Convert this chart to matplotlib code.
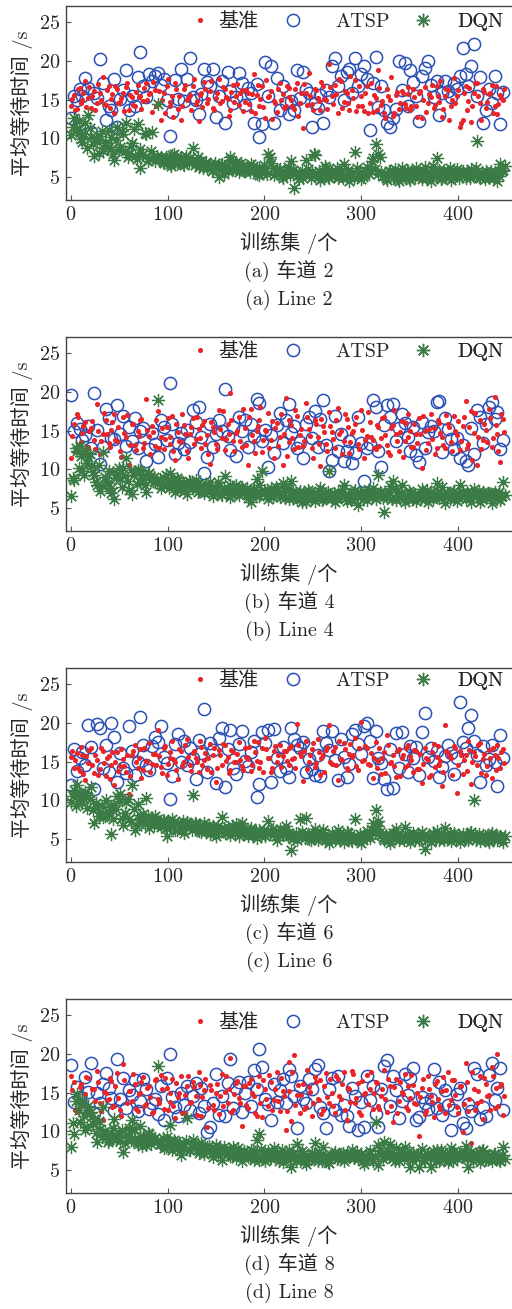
import numpy as np
import matplotlib
matplotlib.use("Agg")
import matplotlib.pyplot as plt

plt.rcParams['font.family'] = ['cmr10', 'Noto Sans CJK SC', 'DejaVu Sans']
plt.rcParams['axes.formatter.use_mathtext'] = True
plt.rcParams['mathtext.fontset'] = 'cm'
plt.rcParams['axes.unicode_minus'] = False

# ---------------- data ----------------
episodes_a = np.arange(0, 450, 3)   # sampled training episodes
episodes_b = np.arange(1, 450, 3)
episodes_c = np.arange(2, 450, 3)

series_names = ['基准', 'ATSP', 'DQN']
captions_cn = ['(a) 车道 2', '(b) 车道 4', '(c) 车道 6', '(d) 车道 8']
captions_en = ['(a) Line 2', '(b) Line 4', '(c) Line 6', '(d) Line 8']
x_label = '训练集 /个'
y_label = '平均等待时间 /s'
x_ticks = [0, 100, 200, 300, 400]
y_ticks = [5, 10, 15, 20, 25]

# ----- Line 2 -----
base_line2 = [
    14.2, 15.6, 13.8, 16.5, 14.9, 17.4, 15.2, 13.9, 16.1, 14.6, 15.8, 17.9, 14.3, 16.8, 15.1,
    13.2, 16.4, 14.7, 15.9, 16.6, 13.6, 15.3, 14.1, 16.9, 15.5, 14.8, 17.2, 15.7, 13.4, 16.2,
    14.5, 12.4, 15.9, 16.7, 14.2, 15.4, 17.1, 13.8, 12.3, 16.3, 14.9, 15.6, 16.8, 14.4, 12.2,
    15.8, 17.3, 14.6, 16.1, 13.9, 15.2, 17.6, 14.8, 16.4, 15.1, 13.7, 16.9, 15.5, 14.3, 16.2,
    14.7, 15.9, 13.5, 18.3, 15.6, 14.2, 16.7, 12.6, 15.3, 16.1, 14.8, 13.4, 17.2, 15.7, 14.1,
    16.5, 15.0, 13.8, 17.1, 14.6, 11.3, 15.9, 18.4, 14.4, 16.3, 15.2, 13.7, 16.8, 14.9, 19.6,
    15.5, 16.9, 13.2, 17.4, 14.7, 15.8, 13.6, 16.2, 17.5, 14.1, 15.4, 13.5, 16.7, 14.6, 13.4,
    15.2, 18.8, 14.3, 13.3, 16.4, 14.9, 12.9, 15.6, 13.8, 16.1, 14.4, 15.7, 13.6, 16.3, 14.2,
    15.9, 12.6, 16.6, 14.5, 15.3, 13.9, 16.8, 14.7, 12.8, 15.5, 16.2, 14.1, 17.8, 15.4, 11.5,
    12.4, 16.7, 14.8, 12.1, 15.9, 17.2, 14.6, 16.4, 13.9, 15.7, 16.9, 14.2, 13.1, 15.6, 14.9]
base_line2_b = [
    15.1, 13.7, 16.3, 14.5, 15.8, 14.0, 16.6, 15.4, 13.6, 17.0, 15.0, 14.4, 16.2, 13.9, 15.7,
    16.8, 14.6, 15.2, 13.5, 17.1, 15.6, 14.3, 16.0, 15.3, 13.8, 16.5, 14.9, 15.9, 17.3, 14.2,
    16.1, 15.0, 13.3, 17.6, 14.7, 12.8, 16.4, 15.5, 14.1, 16.9, 15.2, 13.7, 17.7, 14.8, 15.6,
    14.0, 16.3, 15.1, 17.4, 13.6, 15.9, 14.5, 16.6, 15.3, 12.9, 16.0, 14.7, 17.0, 15.8, 13.5,
    16.2, 14.4, 15.7, 13.2, 16.9, 15.1, 14.0, 17.5, 15.4, 12.5, 14.6, 16.3, 15.0, 13.9, 16.7,
    15.3, 14.1, 16.4, 12.9, 15.8, 17.0, 14.3, 15.5, 13.6, 16.2, 14.8, 17.3, 15.1, 13.8, 16.6,
    14.4, 15.7, 17.6, 13.9, 16.1, 14.6, 18.1, 15.2, 13.5, 16.8, 14.2, 15.9, 13.3, 17.2, 15.6,
    13.7, 16.5, 14.8, 12.6, 15.4, 17.9, 13.2, 16.0, 14.5, 15.8, 13.9, 16.6, 14.1, 15.3, 12.8,
    16.1, 14.9, 13.4, 15.7, 16.9, 14.3, 15.5, 17.4, 13.8, 16.4, 12.4, 15.0, 14.6, 16.2, 12.0,
    15.8, 13.6, 16.5, 14.2, 17.1, 15.4, 12.3, 16.0, 14.7, 15.9, 13.3, 16.8, 14.4, 15.2, 16.3]
atsp_line2 = [
    12.6, 15.4, 14.9, 16.3, 15.5, 17.8, 16.5, 10.8, 15.9, 15.2, 20.3, 17.2, 12.3, 14.1, 13.6,
    17.7, 11.5, 15.1, 16.2, 18.8, 13.7, 15.5, 14.2, 17.9, 21.2, 16.8, 15.3, 18.3, 17.4, 18.1,
    18.4, 16.9, 17.7, 15.0, 10.3, 13.4, 17.5, 15.1, 19.0, 14.8, 17.6, 20.4, 15.3, 14.9, 13.1,
    15.7, 18.9, 17.3, 16.8, 18.9, 12.7, 15.5, 17.4, 11.9, 18.6, 16.1, 14.6, 15.3, 18.4, 17.2,
    14.3, 16.5, 15.9, 12.0, 17.0, 10.2, 11.8, 19.9, 15.4, 19.4, 12.0, 17.8, 13.6, 16.7, 14.5,
    13.1, 14.8, 13.7, 18.8, 15.2, 18.6, 16.4, 15.8, 11.4, 14.6, 13.9, 15.6, 11.9, 16.2, 15.3,
    19.3, 20.4, 16.8, 18.1, 14.9, 18.6, 19.0, 15.8, 20.4, 16.7, 18.3, 19.4, 17.6, 11.1, 17.2,
    20.5, 14.0, 16.8, 13.6, 12.0, 11.4, 12.6, 13.8, 20.0, 16.2, 19.7, 14.1, 18.8, 17.3, 15.4,
    12.2, 18.1, 19.1, 20.0, 16.9, 15.3, 17.4, 13.0, 15.9, 17.4, 16.1, 15.3, 17.1, 16.3, 18.0,
    21.7, 18.3, 16.7, 19.4, 22.2, 15.4, 17.9, 12.0, 13.6, 16.3, 14.5, 18.0, 15.8, 11.8, 16.0]
dqn_line2 = [
    10.4, 12.6, 11.2, 10.8, 9.5, 11.9, 13.0, 10.1, 7.7, 9.6, 10.3, 8.4, 9.1, 11.0, 8.6,
    7.2, 11.4, 8.9, 10.5, 12.0, 8.0, 9.4, 7.7, 11.8, 6.2, 7.9, 10.6, 7.4, 10.8, 7.0,
    14.4, 7.5, 6.8, 7.3, 6.6, 7.8, 7.0, 6.9, 7.6, 6.5, 7.2, 7.4, 8.7, 6.8, 6.3,
    7.0, 6.4, 6.1, 6.7, 5.9, 6.3, 5.0, 6.6, 6.2, 5.8, 7.5, 6.0, 6.9, 5.6, 6.4,
    5.7, 6.3, 6.6, 5.9, 5.4, 6.1, 5.5, 5.8, 8.0, 6.8, 5.2, 5.6, 6.0, 4.9, 5.3,
    5.7, 7.0, 3.6, 5.1, 5.5, 4.8, 7.2, 5.3, 5.6, 7.8, 5.0, 4.6, 5.4, 6.1, 4.8,
    5.8, 5.2, 4.9, 5.5, 6.6, 5.0, 4.5, 5.3, 8.2, 5.1, 4.7, 5.4, 6.3, 5.9, 7.4,
    9.2, 7.9, 5.6, 5.2, 4.6, 5.8, 4.8, 5.4, 4.5, 6.1, 5.0, 5.7, 4.6, 5.3, 6.2,
    5.5, 4.7, 6.3, 5.1, 4.5, 5.6, 7.4, 5.9, 4.9, 5.2, 5.7, 4.6, 5.4, 6.0, 5.3,
    5.8, 4.9, 5.5, 6.0, 5.1, 9.6, 4.8, 5.3, 5.7, 4.9, 5.2, 5.6, 4.5, 6.6, 5.9]
dqn_line2_b = [
    11.5, 10.9, 12.2, 9.9, 10.6, 8.7, 11.3, 9.2, 10.0, 8.1, 10.9, 9.4, 8.8, 10.2, 7.9,
    9.8, 8.5, 10.9, 8.3, 7.6, 9.0, 11.2, 7.3, 8.6, 7.8, 10.7, 7.1, 8.4, 7.5, 7.7,
    7.3, 6.9, 7.6, 7.1, 6.4, 7.9, 6.7, 7.4, 6.6, 7.7, 6.9, 7.1, 6.5, 7.5, 6.8,
    6.2, 6.9, 6.5, 5.7, 6.8, 6.0, 6.5, 5.4, 6.3, 7.2, 5.9, 6.6, 6.1, 6.8, 5.8,
    6.1, 5.6, 6.4, 6.0, 5.2, 5.8, 6.5, 5.4, 7.6, 6.2, 5.5, 5.9, 5.1, 5.7, 6.3,
    5.2, 5.9, 5.5, 4.7, 5.8, 5.3, 6.0, 4.9, 7.9, 5.4, 5.7, 5.1, 6.4, 5.0, 5.5,
    5.3, 6.1, 5.6, 4.8, 5.2, 5.9, 5.4, 4.8, 6.2, 5.6, 5.0, 5.8, 5.3, 7.1, 6.0,
    5.4, 7.6, 5.1, 4.9, 5.7, 5.3, 6.0, 4.7, 5.5, 5.2, 5.9, 4.8, 5.6, 5.0, 5.8,
    5.1, 5.8, 4.9, 5.5, 6.4, 5.0, 5.3, 4.7, 5.9, 5.4, 6.1, 5.0, 5.6, 4.8, 5.5,
    5.3, 5.7, 4.8, 5.4, 6.1, 5.0, 5.6, 4.7, 5.2, 5.8, 4.9, 5.5, 5.1, 5.7, 6.4]

# ----- Line 4 -----
base_line4 = [
    11.5, 15.9, 17.1, 13.2, 14.7, 16.1, 12.9, 15.3, 13.8, 18.4, 11.9, 14.6, 16.3, 13.4, 15.1,
    17.2, 13.6, 12.3, 16.7, 14.2, 10.6, 15.8, 13.1, 14.9, 16.4, 12.7, 19.1, 14.3, 15.6, 13.0,
    17.5, 14.1, 12.6, 15.4, 13.3, 16.9, 11.2, 14.8, 13.5, 15.7, 12.4, 14.5, 16.6, 13.9, 15.2,
    12.8, 16.2, 14.4, 10.7, 15.5, 13.2, 17.6, 14.0, 12.5, 15.9, 19.9, 13.6, 14.7, 16.8, 12.9,
    15.3, 10.5, 17.8, 13.7, 14.9, 16.4, 12.2, 15.1, 17.3, 13.8, 11.4, 16.0, 14.2, 10.5, 19.2,
    13.5, 15.7, 12.6, 16.9, 14.4, 13.0, 18.6, 15.2, 12.8, 16.3, 14.1, 10.4, 15.6, 13.3, 17.4,
    14.8, 12.7, 17.9, 15.0, 13.6, 16.5, 12.1, 14.7, 15.9, 13.2, 17.7, 11.5, 14.3, 16.1, 13.8,
    12.6, 15.4, 14.0, 16.8, 13.1, 11.8, 15.7, 14.5, 12.4, 16.2, 13.7, 17.2, 15.0, 12.9, 14.6,
    16.6, 10.2, 14.9, 13.4, 17.1, 15.3, 12.7, 16.0, 14.2, 12.8, 15.8, 13.5, 16.9, 14.4, 12.5,
    15.6, 18.8, 13.2, 17.5, 14.7, 10.5, 16.3, 13.8, 15.1, 17.8, 12.9, 19.3, 14.6, 10.9, 16.5]
base_line4_b = [
    14.3, 12.2, 16.8, 13.5, 15.6, 11.8, 14.9, 16.2, 12.6, 15.0, 13.7, 17.3, 14.5, 12.9, 16.1,
    13.8, 15.4, 11.6, 14.7, 17.0, 13.1, 15.9, 12.5, 14.3, 16.5, 13.4, 15.1, 11.9, 14.8, 16.4,
    12.7, 15.3, 13.9, 16.6, 14.1, 12.3, 15.8, 13.6, 17.2, 14.6, 11.5, 15.5, 13.2, 16.8, 14.0,
    15.7, 13.3, 11.9, 16.1, 14.8, 12.6, 15.2, 17.5, 13.9, 14.5, 16.3, 12.4, 15.0, 13.6, 17.8,
    13.1, 16.7, 14.4, 12.1, 15.6, 18.1, 13.8, 14.9, 12.7, 16.2, 15.3, 13.0, 17.1, 14.6, 11.7,
    16.4, 14.0, 17.6, 12.9, 15.2, 13.7, 16.8, 14.3, 11.4, 15.9, 13.3, 16.5, 14.8, 12.4, 15.6,
    13.9, 16.3, 14.6, 12.0, 17.1, 15.4, 13.5, 14.9, 16.7, 12.6, 15.1, 13.8, 17.4, 14.2, 12.8,
    15.7, 13.0, 16.6, 14.4, 12.2, 15.3, 17.6, 13.6, 14.8, 11.6, 16.0, 14.1, 12.9, 15.8, 13.4,
    14.5, 16.9, 12.5, 15.2, 13.9, 11.9, 16.4, 14.7, 13.1, 17.0, 15.5, 12.3, 14.9, 16.2, 13.6,
    16.8, 12.8, 15.4, 11.2, 17.3, 14.2, 12.6, 15.9, 13.5, 16.6, 14.0, 15.7, 12.4, 17.1, 14.8]
atsp_line4 = [
    19.6, 14.9, 16.0, 15.2, 13.8, 14.4, 15.6, 12.8, 19.9, 15.1, 10.7, 12.9, 17.8, 16.6, 14.0,
    13.9, 18.3, 14.6, 16.9, 13.0, 15.5, 13.6, 16.6, 12.7, 14.9, 15.3, 11.1, 12.6, 14.7, 13.2,
    11.6, 16.3, 15.4, 13.8, 21.2, 15.9, 12.0, 13.4, 14.7, 12.6, 15.1, 13.5, 17.6, 16.1, 18.0,
    14.2, 9.5, 11.6, 15.8, 12.9, 14.6, 16.3, 15.0, 20.4, 14.3, 12.5, 15.4, 11.7, 16.8, 14.9,
    16.3, 12.9, 15.8, 14.1, 19.1, 18.6, 13.6, 15.1, 10.3, 14.4, 12.1, 15.7, 17.3, 13.4, 16.4,
    18.4, 14.7, 15.6, 12.8, 13.5, 11.5, 15.9, 16.8, 14.0, 17.5, 12.9, 16.5, 18.9, 13.1, 9.8,
    11.2, 16.9, 12.3, 14.6, 11.0, 12.4, 13.7, 10.8, 12.1, 16.7, 13.4, 8.5, 12.8, 13.2, 18.9,
    18.1, 12.4, 10.3, 15.7, 18.3, 16.8, 18.4, 13.7, 15.3, 17.2, 16.0, 14.2, 12.3, 15.5, 11.8,
    10.9, 16.1, 12.7, 14.8, 15.6, 14.9, 18.7, 18.8, 12.2, 16.6, 15.2, 13.9, 12.6, 14.0, 11.5,
    13.1, 11.1, 10.6, 15.3, 12.0, 17.6, 16.8, 13.4, 15.9, 18.0, 18.7, 16.5, 17.4, 12.6, 13.8]
dqn_line4 = [
    6.5, 8.6, 12.3, 13.0, 9.7, 12.5, 11.6, 10.4, 9.2, 8.0, 7.2, 12.2, 8.5, 9.8, 6.9,
    6.2, 9.4, 8.8, 10.1, 11.5, 7.3, 6.8, 9.6, 9.9, 8.4, 9.3, 7.1, 9.5, 8.7, 8.3,
    19.0, 7.5, 8.9, 7.9, 9.5, 8.2, 7.0, 8.6, 7.4, 8.1, 6.8, 8.3, 7.7, 8.6, 7.2,
    7.9, 6.9, 7.6, 8.4, 6.5, 7.3, 7.8, 6.7, 9.1, 7.2, 6.4, 7.5, 8.0, 6.6, 7.7,
    7.1, 6.3, 5.8, 7.4, 8.7, 6.5, 9.8, 7.0, 6.2, 7.6, 6.8, 7.3, 6.4, 8.2, 7.5,
    6.1, 8.5, 6.7, 6.0, 7.2, 6.4, 5.7, 7.0, 6.6, 5.9, 6.8, 7.6, 6.2, 6.9, 9.8,
    6.3, 5.8, 7.1, 6.5, 8.0, 5.9, 6.7, 6.1, 7.3, 5.4, 6.6, 7.2, 6.0, 6.8, 7.5,
    6.2, 9.2, 6.9, 4.5, 6.3, 7.8, 8.5, 6.0, 6.6, 7.9, 5.8, 6.4, 6.9, 6.2, 5.9,
    6.7, 7.4, 6.1, 5.7, 7.0, 6.5, 8.2, 6.3, 7.7, 5.6, 6.8, 6.4, 7.2, 5.9, 7.9,
    7.1, 6.2, 6.8, 5.8, 7.4, 6.5, 5.7, 7.0, 6.3, 6.9, 5.6, 7.1, 6.4, 6.0, 8.3]
dqn_line4_b = [
    8.9, 12.8, 10.1, 11.7, 9.3, 10.8, 12.0, 9.6, 8.4, 10.5, 7.8, 9.0, 8.2, 7.5, 9.6,
    8.9, 10.2, 7.7, 9.1, 8.5, 9.9, 9.2, 8.1, 9.7, 8.8, 7.9, 9.4, 8.6, 9.0, 8.2,
    8.7, 8.0, 9.3, 7.6, 8.4, 7.9, 8.8, 7.3, 8.2, 7.7, 8.5, 7.5, 8.1, 7.0, 7.8,
    7.4, 8.1, 7.0, 7.7, 7.2, 8.3, 6.8, 7.5, 7.1, 7.9, 6.6, 7.3, 7.0, 7.6, 6.9,
    7.5, 6.8, 7.2, 6.5, 7.9, 6.9, 7.3, 6.6, 7.1, 6.4, 7.7, 6.8, 7.0, 6.3, 7.4,
    6.7, 7.1, 6.4, 6.9, 5.8, 6.6, 7.3, 6.2, 6.8, 6.5, 7.2, 6.0, 6.7, 7.0, 6.4,
    6.9, 6.1, 6.6, 7.4, 6.3, 6.8, 6.0, 7.0, 6.5, 6.9, 6.2, 6.7, 7.3, 6.4, 6.8,
    6.6, 7.1, 6.3, 6.8, 7.0, 6.2, 7.4, 6.5, 6.9, 6.1, 6.7, 7.2, 6.4, 6.8, 6.6,
    6.2, 6.9, 7.3, 6.5, 6.1, 6.8, 7.0, 6.4, 6.7, 6.9, 6.2, 7.1, 6.6, 6.3, 6.9,
    6.6, 7.0, 6.3, 6.8, 6.5, 7.2, 6.1, 6.7, 6.9, 6.4, 6.8, 6.2, 7.0, 6.5, 6.7]

# ----- Line 6 -----
base_line6 = [
    15.6, 14.2, 16.1, 13.8, 15.9, 12.6, 14.8, 16.7, 13.5, 15.2, 14.0, 16.4, 13.1, 15.7, 14.6,
    11.9, 16.2, 14.4, 15.3, 13.6, 10.8, 15.8, 17.2, 14.1, 16.6, 13.9, 15.1, 17.4, 14.7, 16.0,
    19.1, 14.3, 16.8, 13.2, 15.5, 17.6, 14.9, 12.8, 16.3, 15.0, 17.9, 14.5, 16.1, 15.4, 13.7,
    16.9, 15.2, 14.0, 17.3, 15.8, 12.3, 16.5, 14.6, 17.1, 15.6, 13.9, 16.2, 15.0, 17.5, 14.4,
    16.7, 15.3, 13.8, 17.7, 15.1, 14.2, 16.8, 18.0, 15.5, 13.6, 16.4, 14.9, 17.2, 15.7, 16.3,
    14.5, 17.0, 15.4, 19.8, 16.1, 12.5, 17.6, 15.0, 16.6, 14.3, 17.9, 13.2, 15.8, 16.5, 19.7,
    14.7, 16.9, 12.6, 15.3, 17.4, 14.2, 16.0, 15.6, 18.1, 13.9, 20.1, 15.2, 16.7, 14.6, 12.9,
    17.5, 15.1, 13.4, 16.2, 18.4, 14.8, 15.9, 13.0, 16.6, 15.4, 14.3, 17.1, 15.7, 13.6, 16.3,
    14.0, 12.2, 16.8, 15.2, 13.3, 17.3, 15.6, 14.5, 11.8, 19.7, 16.1, 15.5, 17.0, 10.9, 16.4,
    13.4, 15.9, 17.7, 12.1, 16.2, 14.6, 17.4, 15.3, 13.2, 16.5, 12.9, 15.8, 17.2, 14.1, 16.6]
base_line6_b = [
    16.4, 15.2, 14.1, 16.9, 13.4, 15.7, 16.5, 14.6, 15.9, 13.2, 16.7, 14.8, 15.5, 12.7, 16.2,
    15.0, 13.8, 16.6, 14.4, 15.8, 13.1, 16.3, 14.9, 15.4, 12.9, 16.8, 15.1, 13.7, 16.0, 14.5,
    15.7, 13.5, 17.0, 14.7, 16.2, 15.3, 13.9, 16.6, 14.4, 17.1, 15.6, 13.8, 16.4, 15.0, 17.6,
    14.6, 16.1, 15.4, 13.7, 16.8, 14.2, 15.9, 17.3, 15.1, 13.5, 16.5, 14.9, 16.0, 15.2, 13.9,
    15.6, 16.9, 14.5, 16.2, 17.5, 15.0, 13.6, 16.6, 15.4, 14.1, 17.0, 15.8, 14.3, 16.4, 15.1,
    16.8, 15.3, 14.2, 17.2, 15.7, 16.4, 14.0, 15.9, 17.4, 14.8, 16.2, 15.5, 13.7, 16.9, 15.0,
    16.3, 14.5, 17.7, 15.2, 16.6, 13.9, 17.3, 15.8, 14.4, 16.8, 15.1, 17.0, 14.7, 16.1, 15.5,
    14.2, 16.7, 15.4, 13.5, 17.1, 15.0, 14.4, 16.3, 13.1, 15.9, 16.8, 14.6, 15.2, 16.5, 14.0,
    16.0, 14.7, 15.5, 13.0, 16.2, 14.3, 17.0, 15.1, 13.6, 16.4, 15.7, 13.2, 16.8, 14.5, 15.9,
    15.2, 13.8, 16.5, 14.9, 15.7, 17.1, 13.5, 16.0, 14.4, 15.5, 16.7, 13.9, 15.4, 16.2, 14.8]
atsp_line6 = [
    11.9, 16.6, 13.8, 15.4, 16.2, 14.5, 19.7, 16.9, 11.4, 19.8, 19.3, 14.2, 17.1, 13.6, 20.0,
    18.2, 12.3, 16.1, 14.1, 13.5, 19.6, 16.4, 13.3, 15.0, 20.8, 17.2, 14.6, 13.9, 17.0, 18.2,
    17.5, 19.6, 15.6, 14.8, 10.1, 13.1, 17.3, 18.5, 15.0, 17.7, 14.6, 16.8, 15.4, 12.8, 17.8,
    16.1, 21.8, 13.7, 17.4, 16.5, 12.2, 18.0, 19.3, 11.7, 16.6, 19.1, 14.2, 13.4, 17.3, 19.0,
    15.1, 14.4, 16.2, 17.6, 10.4, 12.1, 18.8, 17.4, 19.1, 12.3, 19.2, 15.4, 13.8, 16.9, 14.1,
    13.0, 19.3, 17.9, 17.2, 16.7, 17.5, 13.6, 15.3, 14.0, 13.3, 15.8, 13.1, 18.9, 17.4, 16.5,
    18.9, 15.2, 12.6, 17.9, 15.6, 13.0, 14.7, 18.6, 19.1, 17.3, 16.0, 19.6, 20.0, 17.7, 12.9,
    19.0, 15.5, 14.8, 12.7, 11.5, 16.6, 11.6, 18.7, 14.2, 18.8, 16.0, 13.6, 17.0, 15.4, 16.9,
    13.2, 18.8, 21.3, 15.6, 16.7, 15.1, 16.4, 13.0, 14.3, 15.7, 17.2, 16.1, 13.4, 15.5, 22.7,
    17.5, 16.8, 19.4, 21.0, 17.7, 15.9, 12.3, 17.0, 14.6, 15.3, 17.2, 14.9, 11.8, 18.4, 15.4]
dqn_line6 = [
    9.8, 11.3, 12.0, 10.2, 9.6, 11.0, 10.4, 11.7, 7.0, 9.1, 8.5, 7.8, 10.0, 8.3, 5.6,
    9.4, 10.5, 10.8, 6.8, 9.7, 7.5, 12.0, 6.1, 9.5, 7.4, 8.2, 10.3, 6.4, 7.5, 7.9,
    7.1, 6.5, 7.3, 5.3, 6.8, 7.5, 6.2, 7.0, 6.4, 5.8, 7.2, 6.6, 10.7, 6.9, 6.0,
    5.9, 7.1, 6.3, 5.6, 6.7, 5.4, 6.2, 7.8, 5.7, 6.5, 5.5, 6.1, 6.9, 5.3, 7.0,
    6.0, 5.4, 6.4, 5.8, 5.1, 6.2, 5.7, 5.3, 7.3, 6.0, 5.6, 4.9, 6.3, 5.5, 6.6,
    5.8, 3.6, 5.2, 4.9, 7.5, 5.5, 7.7, 5.0, 5.6, 6.3, 4.8, 5.4, 6.1, 5.1, 4.5,
    5.7, 4.9, 6.2, 5.3, 4.6, 5.9, 5.2, 4.7, 7.5, 5.0, 4.4, 5.6, 6.0, 5.1, 7.0,
    8.7, 7.3, 5.5, 4.9, 5.2, 4.5, 5.8, 6.3, 4.8, 5.4, 6.5, 5.0, 4.6, 5.7, 5.2,
    4.8, 5.9, 3.7, 5.3, 4.6, 5.5, 6.0, 4.9, 5.2, 6.4, 5.0, 4.7, 5.8, 5.3, 4.6,
    5.6, 5.1, 4.8, 5.9, 10.0, 5.3, 4.7, 5.5, 5.0, 4.6, 5.7, 5.2, 4.9, 5.4, 4.6]
dqn_line6_b = [
    10.5, 9.3, 10.9, 9.9, 10.7, 9.0, 10.1, 8.7, 9.6, 8.0, 9.3, 7.9, 8.6, 9.1, 7.6,
    8.8, 9.9, 7.7, 8.4, 10.2, 7.2, 8.9, 6.7, 8.1, 7.6, 6.9, 7.9, 7.3, 6.8, 7.5,
    6.9, 7.4, 6.4, 7.0, 6.6, 7.2, 6.1, 6.8, 7.3, 6.5, 6.9, 6.2, 7.1, 6.4, 6.7,
    6.5, 6.0, 6.8, 6.2, 5.8, 6.6, 6.0, 6.4, 5.7, 6.3, 6.7, 5.9, 6.2, 6.5, 5.8,
    5.7, 6.2, 5.5, 6.0, 5.8, 5.4, 6.1, 5.9, 5.6, 6.3, 5.3, 5.9, 5.7, 6.1, 5.4,
    5.4, 5.0, 5.7, 5.3, 5.9, 5.1, 5.6, 4.9, 5.3, 5.8, 5.2, 5.7, 4.9, 5.5, 5.2,
    5.2, 5.5, 4.8, 5.4, 5.0, 5.7, 4.9, 5.3, 5.1, 5.6, 4.8, 5.2, 5.5, 6.2, 5.8,
    6.6, 5.9, 5.1, 5.5, 4.9, 5.3, 5.0, 5.6, 5.2, 4.9, 5.5, 5.1, 5.4, 4.8, 5.6,
    5.1, 5.5, 4.9, 5.2, 5.7, 5.0, 5.4, 5.6, 4.9, 5.3, 5.8, 5.1, 5.0, 5.5, 5.2,
    5.0, 5.4, 5.7, 5.2, 4.9, 5.6, 5.1, 5.3, 4.8, 5.5, 5.0, 5.4, 5.2, 5.0, 5.3]

# ----- Line 8 -----
base_line8 = [
    17.2, 16.3, 12.5, 15.7, 13.2, 14.8, 16.9, 12.1, 15.4, 17.8, 13.6, 11.4, 15.0, 14.2, 16.5,
    13.3, 17.5, 12.8, 18.7, 10.4, 15.2, 13.9, 16.1, 12.6, 14.9, 17.0, 13.5, 15.8, 12.3, 16.6,
    14.1, 17.3, 12.9, 15.6, 13.8, 16.7, 11.7, 14.4, 17.1, 12.4, 15.9, 13.6, 16.4, 14.6, 17.6,
    11.9, 15.3, 10.5, 16.0, 13.4, 14.9, 12.2, 17.4, 15.1, 13.7, 19.5, 12.8, 16.2, 14.3, 10.7,
    15.8, 13.0, 16.8, 14.5, 12.0, 17.2, 11.8, 15.5, 13.3, 16.3, 14.0, 17.7, 12.6, 15.2, 10.1,
    18.9, 11.3, 19.8, 14.7, 12.4, 16.1, 13.1, 15.7, 11.9, 17.0, 14.2, 16.6, 12.7, 17.5, 13.6,
    15.0, 12.3, 16.8, 14.1, 17.6, 11.5, 15.4, 17.8, 13.7, 16.2, 12.1, 14.8, 17.3, 15.5, 12.9,
    16.4, 13.2, 14.6, 17.9, 12.5, 15.9, 11.2, 16.7, 13.9, 15.1, 17.4, 12.7, 14.3, 16.0, 13.5,
    9.4, 15.6, 12.2, 17.1, 14.5, 11.8, 16.5, 13.3, 15.2, 12.4, 17.7, 14.0, 16.6, 13.1, 15.8,
    9.9, 18.8, 12.6, 8.5, 15.4, 13.6, 17.2, 11.6, 16.1, 14.7, 18.3, 13.0, 20.0, 15.9, 12.1]
base_line8_b = [
    15.3, 12.8, 14.6, 16.1, 13.4, 17.0, 12.2, 15.5, 13.9, 16.4, 12.6, 15.1, 14.0, 16.9, 13.1,
    15.9, 14.3, 12.0, 16.6, 13.7, 15.2, 17.4, 12.9, 14.8, 16.3, 13.2, 15.6, 14.4, 12.5, 16.7,
    13.6, 15.4, 16.9, 12.8, 14.9, 13.3, 16.2, 15.0, 12.4, 14.7, 17.2, 13.8, 15.7, 12.1, 16.0,
    14.4, 16.8, 13.0, 15.3, 12.7, 16.1, 14.6, 13.2, 17.1, 15.4, 12.5, 14.8, 16.5, 13.6, 15.9,
    13.4, 16.2, 14.9, 12.3, 15.8, 13.7, 16.6, 14.2, 17.3, 12.8, 15.5, 13.9, 16.9, 14.5, 12.6,
    15.2, 17.6, 13.4, 16.0, 14.7, 12.9, 17.9, 15.1, 13.6, 16.3, 14.0, 12.2, 15.8, 14.4, 16.7,
    13.2, 17.2, 14.6, 16.1, 12.7, 15.6, 13.8, 17.4, 14.3, 12.5, 16.5, 15.0, 13.5, 17.7, 14.9,
    16.2, 12.9, 15.4, 14.1, 16.8, 13.3, 15.7, 12.4, 16.4, 14.8, 13.1, 15.9, 17.3, 13.7, 15.0,
    14.4, 16.7, 12.6, 15.5, 13.8, 16.1, 14.2, 12.9, 17.0, 15.3, 13.4, 16.6, 14.7, 12.3, 15.8,
    13.5, 16.4, 14.1, 17.6, 12.8, 15.2, 13.9, 16.9, 14.5, 12.7, 17.2, 15.6, 13.3, 16.1, 14.6]
atsp_line8 = [
    18.6, 13.8, 15.7, 14.4, 13.2, 17.0, 15.1, 18.8, 12.4, 14.9, 13.6, 16.1, 17.5, 15.6, 14.3,
    12.6, 19.3, 14.1, 16.9, 13.0, 15.3, 14.7, 16.6, 12.6, 13.9, 16.7, 15.5, 12.9, 13.7, 14.2,
    12.2, 15.8, 11.5, 16.9, 20.0, 14.4, 13.1, 12.0, 15.0, 13.4, 15.9, 12.7, 14.5, 16.2, 12.3,
    15.6, 13.3, 9.9, 10.5, 13.7, 17.4, 12.1, 14.5, 11.9, 16.2, 19.3, 13.0, 15.6, 16.3, 12.5,
    14.9, 16.4, 13.2, 17.9, 15.5, 20.6, 18.3, 14.1, 13.5, 11.5, 16.1, 13.8, 15.3, 16.8, 13.6,
    18.0, 17.2, 14.6, 10.4, 15.9, 14.2, 13.6, 16.7, 15.4, 18.0, 18.6, 13.1, 12.3, 10.4, 15.5,
    16.9, 12.7, 17.2, 12.1, 13.4, 11.9, 10.7, 15.6, 14.5, 10.2, 13.8, 10.6, 17.1, 14.0, 15.9,
    12.2, 10.5, 15.5, 18.4, 19.2, 13.2, 17.1, 15.3, 11.7, 13.9, 17.4, 14.7, 16.9, 18.2, 11.5,
    11.8, 14.4, 13.6, 12.9, 14.2, 18.1, 13.0, 16.4, 12.1, 15.3, 13.4, 10.2, 12.8, 14.8, 15.6,
    11.1, 10.4, 13.5, 12.6, 18.2, 17.4, 11.6, 13.1, 12.0, 17.3, 18.8, 14.0, 15.6, 18.2, 12.8]
dqn_line8 = [
    8.0, 9.6, 14.8, 11.2, 14.0, 10.1, 13.2, 12.5, 11.6, 8.6, 10.3, 13.1, 9.4, 8.9, 9.8,
    11.6, 9.2, 8.7, 7.3, 9.5, 10.4, 11.5, 9.0, 8.4, 10.7, 9.3, 8.2, 9.6, 8.8, 9.1,
    18.4, 8.3, 7.8, 9.2, 10.8, 7.5, 8.6, 8.0, 6.9, 8.3, 11.7, 7.6, 8.9, 8.1, 7.2,
    8.5, 7.0, 7.9, 7.4, 6.6, 8.2, 7.7, 6.3, 7.5, 7.0, 6.8, 7.9, 6.5, 7.3, 6.2,
    7.1, 6.7, 7.6, 6.3, 8.9, 9.6, 7.0, 6.1, 7.4, 6.5, 7.8, 6.6, 7.2, 6.0, 6.8,
    7.5, 5.4, 6.7, 8.3, 6.2, 7.0, 5.8, 6.4, 7.2, 8.5, 6.1, 6.6, 7.9, 6.3, 5.9,
    6.8, 7.3, 6.5, 7.0, 6.1, 7.2, 6.6, 7.5, 6.9, 6.4, 7.1, 5.7, 6.7, 7.4, 6.2,
    11.2, 5.6, 6.9, 8.6, 7.6, 8.4, 6.5, 7.8, 6.2, 7.3, 8.0, 6.8, 5.3, 7.1, 6.6,
    5.4, 7.7, 6.3, 7.0, 5.3, 6.8, 7.5, 6.1, 7.2, 6.7, 6.0, 7.8, 7.4, 6.5, 7.0,
    6.9, 8.1, 5.3, 7.3, 6.6, 7.1, 6.0, 7.6, 6.4, 6.9, 6.2, 7.0, 6.5, 6.1, 7.9]
dqn_line8_b = [
    11.0, 13.9, 12.7, 13.5, 11.9, 10.6, 12.3, 10.9, 9.7, 11.3, 9.2, 10.0, 8.6, 9.3, 10.4,
    8.9, 9.7, 10.1, 8.5, 9.2, 8.8, 10.3, 8.6, 9.4, 8.1, 8.9, 9.8, 8.3, 9.0, 8.7,
    8.4, 9.1, 7.9, 8.6, 8.2, 8.9, 7.7, 8.5, 8.0, 8.7, 7.6, 8.3, 7.8, 8.4, 7.5,
    7.9, 7.4, 8.1, 7.2, 7.7, 6.9, 7.6, 8.0, 7.1, 7.5, 6.8, 7.3, 7.8, 6.9, 7.4,
    7.2, 6.6, 7.4, 7.0, 6.3, 7.7, 6.8, 7.1, 6.5, 7.3, 6.9, 6.2, 7.5, 6.7, 7.0,
    6.5, 7.1, 6.3, 6.9, 7.4, 6.1, 6.8, 6.4, 7.0, 6.6, 7.3, 6.2, 6.8, 6.0, 6.7,
    7.0, 6.4, 6.9, 7.2, 6.6, 6.8, 7.1, 6.5, 7.3, 6.7, 6.2, 6.9, 7.0, 6.4, 6.8,
    8.2, 7.5, 6.4, 7.0, 6.7, 7.3, 6.1, 6.8, 7.2, 6.5, 6.9, 7.4, 6.3, 6.7, 7.0,
    6.8, 6.3, 7.1, 6.6, 7.4, 6.2, 6.9, 7.5, 6.4, 7.0, 6.7, 6.1, 6.9, 7.2, 6.6,
    7.3, 6.5, 6.9, 6.2, 7.0, 6.7, 7.4, 6.3, 6.8, 6.5, 7.1, 6.6, 6.3, 6.9, 6.4]

panels = [
    (base_line2, base_line2_b, atsp_line2, dqn_line2, dqn_line2_b),
    (base_line4, base_line4_b, atsp_line4, dqn_line4, dqn_line4_b),
    (base_line6, base_line6_b, atsp_line6, dqn_line6, dqn_line6_b),
    (base_line8, base_line8_b, atsp_line8, dqn_line8, dqn_line8_b),
]

# ---------------- style ----------------
RED = '#E8262A'
BLUE = '#2B50B5'
GREEN = '#3B7B45'
TXT = '#262626'
FS = 14.5
STAR = (8, 2, 0)

W, H = 512, 1309
fig = plt.figure(figsize=(W / 100, H / 100), dpi=100)

ax_left = 66
ax_h = 194
tops = [6, 337, 668, 999]
legend_dy = [16, 15, 13, 24]      # px below top of axes
legend_marker_px = [200, 293, 423]
legend_text_px = [218, 335, 457]


def pairs(x, y):
    n = min(len(x), len(y))
    return x[:n], np.asarray(y[:n])


for i, (base, base_b, atsp, dqn, dqn_b) in enumerate(panels):
    top = tops[i]
    ax = fig.add_axes([ax_left / W, 1 - (top + ax_h) / H, (W - ax_left) / W, ax_h / H])

    star_kw = dict(linestyle='none', marker=STAR, markersize=9.5,
                   markeredgewidth=0.9, color=GREEN, zorder=4)
    h_dqn = ax.plot(*pairs(episodes_a, dqn), **star_kw)[0]
    ax.plot(*pairs(episodes_c, dqn_b), **star_kw)

    h_atsp = ax.plot(*pairs(episodes_a, atsp), linestyle='none', marker='o',
                     markersize=8.8, markerfacecolor='none', markeredgewidth=1.1,
                     markeredgecolor=BLUE, zorder=2)[0]

    dot_kw = dict(linestyle='none', marker='o', markersize=3.7,
                  markeredgewidth=0, color=RED, zorder=3)
    h_base = ax.plot(*pairs(episodes_a, base), **dot_kw)[0]
    ax.plot(*pairs(episodes_b, base_b), **dot_kw)

    ax.set_xlim(-5, 456)
    ax.set_ylim(2.0, 27.1)
    ax.set_xticks(x_ticks)
    ax.set_yticks(y_ticks)
    ax.tick_params(direction='in', length=3.5, width=0.8, colors='#555555',
                   labelcolor=TXT, labelsize=FS, pad=4)
    for s in ['left', 'bottom', 'top']:
        ax.spines[s].set_color('#444444')
        ax.spines[s].set_linewidth(1.0)
    ax.spines['right'].set_visible(False)

    ax.set_xlabel(x_label, fontsize=FS, color=TXT)
    ax.xaxis.set_label_coords(0.5, -32 / ax_h)
    ax.set_ylabel(y_label, fontsize=FS, color=TXT)
    ax.yaxis.set_label_coords(-(ax_left - 33) / (W - ax_left), 0.5)

    ax.text(0.5, -71 / ax_h, captions_cn[i], transform=ax.transAxes,
            ha='center', va='center', fontsize=FS, color=TXT)
    ax.text(0.5, -100 / ax_h, captions_en[i], transform=ax.transAxes,
            ha='center', va='center', fontsize=FS, color=TXT)

    # legend: three single-entry legends placed in a row
    handles = [h_base, h_atsp, h_dqn]
    em_px = FS * 100 / 72
    for k in range(3):
        x_frac = (legend_marker_px[k] - em_px / 2 - ax_left) / (W - ax_left)
        pad_em = (legend_text_px[k] - legend_marker_px[k] - em_px / 2) / em_px
        leg = ax.legend([handles[k]], [series_names[k]], loc='center left',
                        bbox_to_anchor=(x_frac, 1 - legend_dy[i] / ax_h),
                        frameon=False, fontsize=FS, handlelength=1.0,
                        handletextpad=pad_em, borderpad=0, borderaxespad=0,
                        numpoints=1, labelcolor=TXT)
        ax.add_artist(leg)

fig.savefig('out.png', dpi=100)
